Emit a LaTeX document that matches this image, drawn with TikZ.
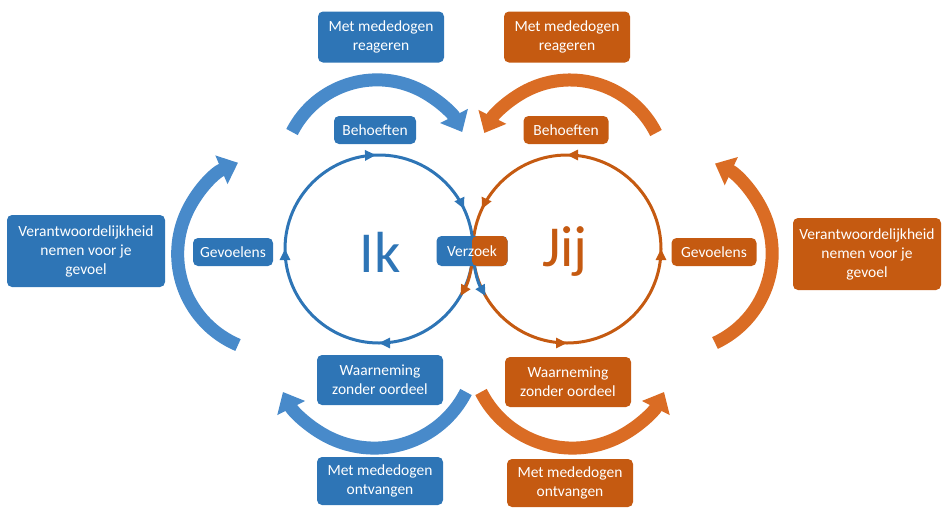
\documentclass[tikz,border=0pt]{standalone}
\usepackage{fontspec}
\setmainfont{Carlito}
\usepackage{tikz}
\usetikzlibrary{arrows.meta, decorations.markings}

\definecolor{ikblue}{RGB}{46,117,182}
\definecolor{ikarrow}{RGB}{72,138,202}
\definecolor{jijorange}{RGB}{197,90,17}
\definecolor{jijarrow}{RGB}{218,108,36}

\begin{document}
\begin{tikzpicture}[x=1pt,y=-1pt,
        box/.style={rounded corners=5pt, text=white, align=center, inner sep=2pt,
            font=\fontsize{15.5}{19}\selectfont},
        ik/.style={box, fill=ikblue},
        jij/.style={box, fill=jijorange},
        wide/.style={minimum width=126pt, minimum height=51pt},
        small/.style={minimum width=82pt, minimum height=28pt},
        side/.style={minimum width=152pt, minimum height=72pt},
        bigarrow/.style={line width=13pt, -{Triangle[width=30pt,length=18pt]}},
        ring/.style={line width=3pt},
        tip/.style={-{Triangle[width=10pt,length=11pt]}},
        big/.style={font=\fontsize{58}{58}\selectfont}]
    \useasboundingbox (0,0) rectangle (943,507);

    % Centres of the two circles
    \coordinate (ikc) at (379,249);
    \coordinate (jijc) at (567,249);

    % Big curved arrows, Ik side
    \coordinate (ikt) at (292,132);
    \coordinate (ikl) at (238,345);
    \coordinate (ikb) at (466,392);
    \draw[bigarrow, ikarrow] (ikt) arc[start angle=207, end angle=333, radius=95.5];
    \draw[bigarrow, ikarrow] (ikl) arc[start angle=113, end angle=247, radius=99];
    \draw[bigarrow, ikarrow] (ikb) arc[start angle=27, end angle=153, radius=102.7];

    % Big curved arrows, Jij side
    \coordinate (jijt) at (656,133);
    \coordinate (jijr) at (715,343);
    \coordinate (jijb) at (481,392);
    \draw[bigarrow, jijarrow] (jijt) arc[start angle=-26.6, end angle=-153.4, radius=96];
    \draw[bigarrow, jijarrow] (jijr) arc[start angle=65, end angle=-65, radius=99];
    \draw[bigarrow, jijarrow] (jijb) arc[start angle=153, end angle=27, radius=102.7];

    % Circles with arrow heads
    \draw[ring, jijorange, postaction=decorate, decoration={markings,
            mark=at position 0.25 with {\arrow{Triangle[width=10pt,length=11pt]}},
            mark=at position 0.5 with {\arrow{Triangle[width=10pt,length=11pt]}},
            mark=at position 0.75 with {\arrow{Triangle[width=10pt,length=11pt]}},
            mark=at position 0.93 with {\arrow{Triangle[width=10pt,length=11pt]}}}]
        (jijc) ++(180:94) arc[start angle=180, end angle=-180, radius=94];
    \draw[ring, ikblue, postaction=decorate, decoration={markings,
            mark=at position 0.25 with {\arrow{Triangle[width=10pt,length=11pt]}},
            mark=at position 0.5 with {\arrow{Triangle[width=10pt,length=11pt]}},
            mark=at position 0.745 with {\arrow{Triangle[width=10pt,length=11pt]}},
            mark=at position 0.93 with {\arrow{Triangle[width=10pt,length=11pt]}}}]
        (ikc) ++(0:94) arc[start angle=0, end angle=360, radius=94];
    \draw[ring, jijorange, tip] (ikc) ++(0:94) arc[start angle=0, end angle=30, radius=94];
    \draw[ring, ikblue, tip] (jijc) ++(180:94) arc[start angle=180, end angle=150, radius=94];

    \node[big, text=ikblue] (ik) at (380,252) {Ik};
    \node[big, text=jijorange] (jij) at (565,252) {Jij};

    % Ik boxes
    \node[ik, wide] (reagerenik) at (381,37) {Met mededogen\\reageren};
    \node[ik, small] (behoeftenik) at (375,130) {Behoeften};
    \node[ik, small, minimum width=80pt] (gevoelensik) at (233,252) {Gevoelens};
    \node[ik, side, minimum width=158pt] (verantwik) at (86,251) {Verantwoordelijkheid\\nemen voor je\\gevoel};
    \node[ik, wide, minimum height=50pt] (waarnemingik) at (380,380) {Waarneming\\zonder oordeel};
    \node[ik, wide, minimum height=48pt] (ontvangenik) at (380,481) {Met mededogen\\ontvangen};

    % Jij boxes
    \node[jij, wide] (reagerenjij) at (567,37) {Met mededogen\\reageren};
    \node[jij, small, minimum width=85pt] (behoeftenjij) at (566,130) {Behoeften};
    \node[jij, small, minimum width=85pt] (gevoelensjij) at (714,252) {Gevoelens};
    \node[jij, side, minimum width=148pt] (verantwjij) at (867,254) {Verantwoordelijkheid\\nemen voor je\\gevoel};
    \node[jij, wide, minimum height=50pt] (waarnemingjij) at (568,382) {Waarneming\\zonder oordeel};
    \node[jij, wide, minimum height=48pt] (ontvangenjij) at (570,483) {Met mededogen\\ontvangen};

    % Request box, half and half
    \node[ik, minimum width=71pt, minimum height=30pt,
        path picture={\fill[jijorange] (path picture bounding box.north)
            rectangle (path picture bounding box.south east);}] (verzoek) at (472,251) {Verzoek};
\end{tikzpicture}
\end{document}
